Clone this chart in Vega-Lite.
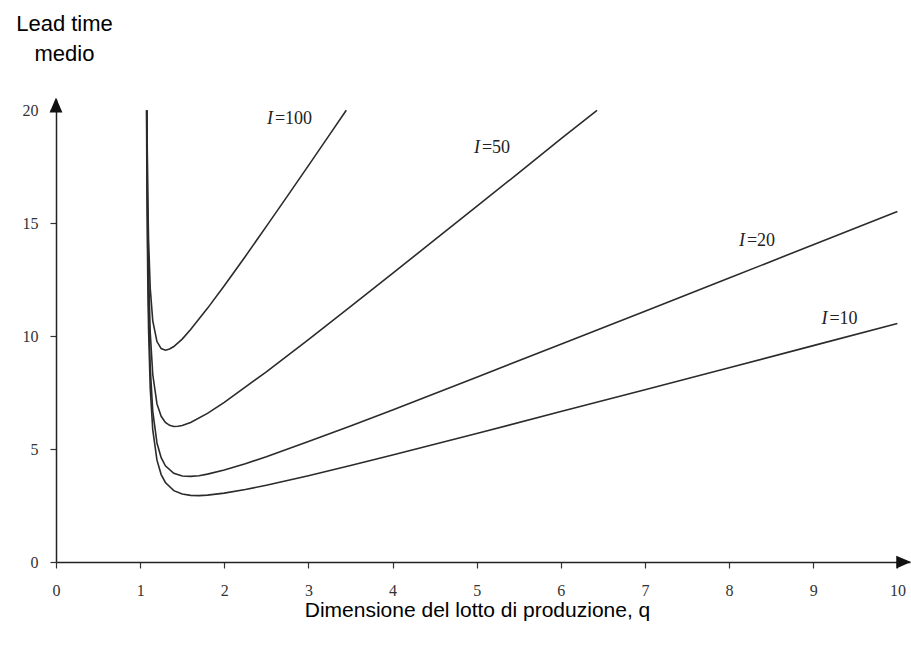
{
  "$schema": "https://vega.github.io/schema/vega-lite/v6.json",
  "width": 854,
  "height": 463,
  "autosize": {"type": "none"},
  "padding": {"left": 56, "top": 99, "right": 1, "bottom": 85},
  "background": "white",
  "config": {"view": {"stroke": null}, "axis": {"grid": false}},
  "datasets": {
    "curves": [
      {"I": "10", "q": 1.076, "T": 20.0}, {"I": "10", "q": 1.08, "T": 17.13}, {"I": "10", "q": 1.09, "T": 12.74}, {"I": "10", "q": 1.1, "T": 10.31}, {"I": "10", "q": 1.12, "T": 7.7}, {"I": "10", "q": 1.15, "T": 5.85}, {"I": "10", "q": 1.2, "T": 4.51}, {"I": "10", "q": 1.25, "T": 3.87}, {"I": "10", "q": 1.3, "T": 3.52}, {"I": "10", "q": 1.4, "T": 3.16}, {"I": "10", "q": 1.5, "T": 3.01}, {"I": "10", "q": 1.6, "T": 2.95}, {"I": "10", "q": 1.7, "T": 2.94}, {"I": "10", "q": 1.8, "T": 2.96}, {"I": "10", "q": 2.0, "T": 3.05}, {"I": "10", "q": 2.25, "T": 3.21}, {"I": "10", "q": 2.5, "T": 3.4}, {"I": "10", "q": 3.0, "T": 3.82}, {"I": "10", "q": 3.5, "T": 4.27}, {"I": "10", "q": 4.0, "T": 4.74}, {"I": "10", "q": 5.0, "T": 5.69}, {"I": "10", "q": 6.0, "T": 6.66}, {"I": "10", "q": 7.0, "T": 7.63}, {"I": "10", "q": 8.0, "T": 8.6}, {"I": "10", "q": 9.0, "T": 9.58}, {"I": "10", "q": 10.0, "T": 10.56},
      {"I": "20", "q": 1.078, "T": 20.0}, {"I": "20", "q": 1.08, "T": 18.6}, {"I": "20", "q": 1.09, "T": 13.95}, {"I": "20", "q": 1.1, "T": 11.37}, {"I": "20", "q": 1.12, "T": 8.61}, {"I": "20", "q": 1.15, "T": 6.67}, {"I": "20", "q": 1.2, "T": 5.27}, {"I": "20", "q": 1.25, "T": 4.62}, {"I": "20", "q": 1.3, "T": 4.26}, {"I": "20", "q": 1.4, "T": 3.93}, {"I": "20", "q": 1.5, "T": 3.81}, {"I": "20", "q": 1.6, "T": 3.79}, {"I": "20", "q": 1.7, "T": 3.82}, {"I": "20", "q": 1.8, "T": 3.89}, {"I": "20", "q": 2.0, "T": 4.07}, {"I": "20", "q": 2.25, "T": 4.35}, {"I": "20", "q": 2.5, "T": 4.66}, {"I": "20", "q": 3.0, "T": 5.33}, {"I": "20", "q": 3.5, "T": 6.02}, {"I": "20", "q": 4.0, "T": 6.73}, {"I": "20", "q": 5.0, "T": 8.18}, {"I": "20", "q": 6.0, "T": 9.64}, {"I": "20", "q": 7.0, "T": 11.1}, {"I": "20", "q": 8.0, "T": 12.57}, {"I": "20", "q": 9.0, "T": 14.05}, {"I": "20", "q": 10.0, "T": 15.52},
      {"I": "50", "q": 1.08, "T": 20.0}, {"I": "50", "q": 1.09, "T": 15.34}, {"I": "50", "q": 1.1, "T": 12.83}, {"I": "50", "q": 1.12, "T": 10.16}, {"I": "50", "q": 1.15, "T": 8.3}, {"I": "50", "q": 1.2, "T": 7.0}, {"I": "50", "q": 1.25, "T": 6.45}, {"I": "50", "q": 1.3, "T": 6.18}, {"I": "50", "q": 1.35, "T": 6.05}, {"I": "50", "q": 1.4, "T": 6.0}, {"I": "50", "q": 1.45, "T": 6.01}, {"I": "50", "q": 1.5, "T": 6.04}, {"I": "50", "q": 1.6, "T": 6.18}, {"I": "50", "q": 1.8, "T": 6.58}, {"I": "50", "q": 2.0, "T": 7.07}, {"I": "50", "q": 2.5, "T": 8.42}, {"I": "50", "q": 3.0, "T": 9.85}, {"I": "50", "q": 3.5, "T": 11.31}, {"I": "50", "q": 4.0, "T": 12.78}, {"I": "50", "q": 4.5, "T": 14.26}, {"I": "50", "q": 5.0, "T": 15.75}, {"I": "50", "q": 5.5, "T": 17.23}, {"I": "50", "q": 6.0, "T": 18.73}, {"I": "50", "q": 6.43, "T": 20.0},
      {"I": "100", "q": 1.08, "T": 20.0}, {"I": "100", "q": 1.09, "T": 16.31}, {"I": "100", "q": 1.1, "T": 14.27}, {"I": "100", "q": 1.12, "T": 12.12}, {"I": "100", "q": 1.15, "T": 10.68}, {"I": "100", "q": 1.2, "T": 9.76}, {"I": "100", "q": 1.25, "T": 9.45}, {"I": "100", "q": 1.3, "T": 9.38}, {"I": "100", "q": 1.35, "T": 9.43}, {"I": "100", "q": 1.4, "T": 9.54}, {"I": "100", "q": 1.5, "T": 9.87}, {"I": "100", "q": 1.6, "T": 10.29}, {"I": "100", "q": 1.8, "T": 11.23}, {"I": "100", "q": 2.0, "T": 12.23}, {"I": "100", "q": 2.25, "T": 13.53}, {"I": "100", "q": 2.5, "T": 14.86}, {"I": "100", "q": 2.75, "T": 16.2}, {"I": "100", "q": 3.0, "T": 17.55}, {"I": "100", "q": 3.25, "T": 18.91}, {"I": "100", "q": 3.45, "T": 20.0}
    ],
    "labels": [
      {"I": "100", "q": 2.59, "T": 19.39, "lab": "=100"},
      {"I": "50", "q": 5.05, "T": 18.11, "lab": "=50"},
      {"I": "20", "q": 8.2, "T": 13.99, "lab": "=20"},
      {"I": "10", "q": 9.18, "T": 10.54, "lab": "=10"}
    ]
  },
  "layer": [
    {
      "data": {"name": "curves"},
      "mark": {"type": "line", "stroke": "#2b2b2b", "strokeWidth": 1.6, "clip": false},
      "encoding": {
        "x": {
          "field": "q", "type": "quantitative",
          "scale": {"domain": [0, 10.15], "nice": false, "zero": false},
          "axis": {
            "values": [0, 1, 2, 3, 4, 5, 6, 7, 8, 9, 10],
            "format": "d",
            "title": "Dimensione del lotto di produzione, q",
            "titleFont": "Liberation Sans", "titleFontSize": 21, "titleFontWeight": "normal", "titleColor": "#000",
            "titleX": 421, "titleY": 54, "titleAlign": "center", "titleBaseline": "alphabetic", "titleAnchor": null,
            "labelFont": "Liberation Serif", "labelFontSize": 16, "labelColor": "#333", "labelPadding": 14, "labelFlush": false, "labelOverlap": false,
            "tickSize": 6, "tickColor": "#333", "tickWidth": 1.2,
            "domainColor": "#222", "domainWidth": 1.5
          }
        },
        "y": {
          "field": "T", "type": "quantitative",
          "scale": {"domain": [0, 20.5], "nice": false},
          "axis": {
            "values": [0, 5, 10, 15, 20],
            "format": "d",
            "title": ["Lead time", "medio"],
            "titleFont": "Liberation Sans", "titleFontSize": 22, "titleFontWeight": "normal", "titleColor": "#000",
            "titleAngle": 0, "titleX": 8, "titleY": -69, "titleAlign": "center", "titleBaseline": "alphabetic", "titleLineHeight": 30, "titleAnchor": null,
            "labelFont": "Liberation Serif", "labelFontSize": 16, "labelColor": "#333", "labelPadding": 12, "labelFlush": false, "labelOverlap": false,
            "tickSize": 6, "tickColor": "#333", "tickWidth": 1.2,
            "domainColor": "#222", "domainWidth": 1.5
          }
        },
        "detail": {"field": "I", "type": "nominal"}
      }
    },
    {
      "data": {"values": [{"q": 0, "T": 20.23}]},
      "mark": {"type": "point", "shape": "M0,-1L0.85,1L-0.85,1Z", "size": 225, "filled": true, "color": "#111", "opacity": 1, "strokeWidth": 0, "clip": false},
      "encoding": {
        "x": {"field": "q", "type": "quantitative"},
        "y": {"field": "T", "type": "quantitative"}
      }
    },
    {
      "data": {"values": [{"q": 10.076, "T": 0}]},
      "mark": {"type": "point", "shape": "M1,0L-1,0.85L-1,-0.85Z", "size": 225, "filled": true, "color": "#111", "opacity": 1, "strokeWidth": 0, "clip": false},
      "encoding": {
        "x": {"field": "q", "type": "quantitative"},
        "y": {"field": "T", "type": "quantitative"}
      }
    },
    {
      "data": {"name": "labels"},
      "mark": {"type": "text", "text": "I", "font": "Liberation Serif", "fontSize": 18, "fontStyle": "italic", "align": "right", "baseline": "alphabetic", "dx": -1, "color": "#222"},
      "encoding": {
        "x": {"field": "q", "type": "quantitative"},
        "y": {"field": "T", "type": "quantitative"}
      }
    },
    {
      "data": {"name": "labels"},
      "mark": {"type": "text", "font": "Liberation Serif", "fontSize": 18, "align": "left", "baseline": "alphabetic", "dx": 1, "color": "#222"},
      "encoding": {
        "x": {"field": "q", "type": "quantitative"},
        "y": {"field": "T", "type": "quantitative"},
        "text": {"field": "lab"}
      }
    }
  ]
}
